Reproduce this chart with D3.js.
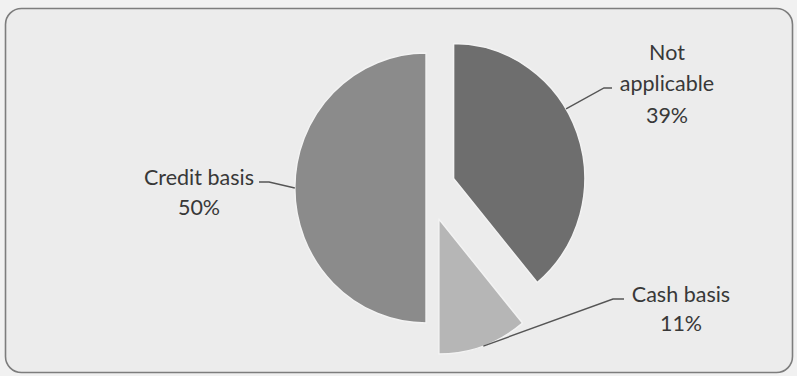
<!DOCTYPE html>
<html>
<head>
<meta charset="utf-8">
<script src="https://cdn.jsdelivr.net/npm/d3@7/dist/d3.min.js"></script>
<style>
  html, body { margin: 0; padding: 0; background: #f1f1f1; }
  svg { display: block; }
  text { font-family: Lato, "Open Sans", sans-serif; fill: #383838; }
</style>
</head>
<body>
<svg id="chart" width="797" height="376"></svg>
<script>
// ---- data ----
const categories = ["Not applicable", "Cash basis", "Credit basis"];
const values = [39, 11, 50];
const percentLabels = ["39%", "11%", "50%"];
const labelLines = [["Not", "applicable", "39%"], ["Cash basis", "11%"], ["Credit basis", "50%"]];

// ---- styling / layout config ----
const colors = ["#6e6e6e", "#b6b6b6", "#8b8b8b"];
const explode = [28, 33, 2];
const W = 797, H = 376;
const cx = 428, cy = 188, R = 135, sx = 0.972;
// label anchor (center of text block) and leader elbow
const labelPos = [
  { x: 667, y: 52, lh: 31.5, elbow: [604, 88], elbowEnd: [612, 88] },
  { x: 681, y: 294, lh: 29.5, elbow: [613, 299], elbowEnd: [624, 299] },
  { x: 199, y: 177, lh: 30, elbow: [269, 182], elbowEnd: [259, 182] }
];

const svg = d3.select("#chart");

// frame
svg.append("rect")
  .attr("x", 5.5).attr("y", 8.5)
  .attr("width", 787).attr("height", 364)
  .attr("rx", 16).attr("ry", 16)
  .attr("fill", "#ececec")
  .attr("stroke", "#7d7d7d")
  .attr("stroke-width", 1.6);

const pie = d3.pie().sort(null).startAngle(0).endAngle(2 * Math.PI);
const arcs = pie(values);
const arc = d3.arc().innerRadius(0).outerRadius(R);

const g = svg.append("g")
  .attr("transform", `translate(${cx},${cy}) scale(${sx},1)`);

g.selectAll("path.slice")
  .data(arcs)
  .enter().append("path")
  .attr("class", "slice")
  .attr("d", arc)
  .attr("transform", (d, i) => {
    const m = (d.startAngle + d.endAngle) / 2;
    return `translate(${Math.sin(m) * explode[i]},${-Math.cos(m) * explode[i]})`;
  })
  .attr("fill", (d, i) => colors[i])
  .attr("stroke", "#f3f3f3")
  .attr("stroke-width", 1.5)
  .attr("stroke-linejoin", "round");

// leader line target points on slice edges
const leaderAngles = [
  (d) => d.startAngle + (d.endAngle - d.startAngle) * 0.42,
  (d) => (d.startAngle + d.endAngle) / 2,
  (d) => (d.startAngle + d.endAngle) / 2
];
function edgePoint(d, i) {
  const m = (d.startAngle + d.endAngle) / 2;
  const ox = Math.sin(m) * explode[i], oy = -Math.cos(m) * explode[i];
  const a = leaderAngles[i](d);
  const px = ox + Math.sin(a) * R, py = oy - Math.cos(a) * R;
  return [cx + px * sx, cy + py];
}

arcs.forEach((d, i) => {
  const p = edgePoint(d, i);
  const lp = labelPos[i];
  svg.append("polyline")
    .attr("points", [p, lp.elbow, lp.elbowEnd].map(q => q.join(",")).join(" "))
    .attr("fill", "none")
    .attr("stroke", "#555")
    .attr("stroke-width", 1.4);

  const t = svg.append("text")
    .attr("text-anchor", "middle")
    .attr("font-size", 21.5);
  labelLines[i].forEach((line, k) => {
    t.append("tspan")
      .attr("x", lp.x)
      .attr("y", lp.y + k * lp.lh)
      .attr("dy", "0.35em")
      .text(line);
  });
});
</script>
</body>
</html>
